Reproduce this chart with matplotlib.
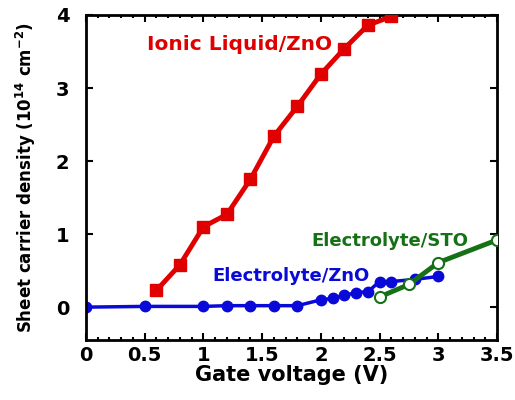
import numpy as np
import matplotlib
matplotlib.use("Agg")
from matplotlib import pyplot as plt
from matplotlib.ticker import MultipleLocator

plt.rcParams['font.family'] = ['DejaVu Sans']
plt.rcParams['font.weight'] = 'bold'
plt.rcParams['mathtext.default'] = 'bf'

# Ionic liquid / ZnO
il_v = [0.6, 0.8, 1.0, 1.2, 1.4, 1.6, 1.8, 2.0, 2.2, 2.4, 2.6]
il_n = [0.23, 0.58, 1.10, 1.27, 1.75, 2.34, 2.75, 3.19, 3.54, 3.86, 3.98]

# Electrolyte / ZnO
ez_v = [0.0, 0.5, 1.0, 1.2, 1.4, 1.6, 1.8, 2.0, 2.1, 2.2, 2.3, 2.4, 2.5, 2.6, 2.8, 3.0]
ez_n = [0.0, 0.01, 0.01, 0.02, 0.02, 0.02, 0.02, 0.10, 0.12, 0.16, 0.20, 0.21, 0.35, 0.35, 0.38, 0.42]

# Electrolyte / STO
es_v = [2.5, 2.75, 3.0, 3.5]
es_n = [0.14, 0.31, 0.61, 0.92]

xticks = [0, 0.5, 1, 1.5, 2, 2.5, 3, 3.5]
xtick_labels = ['0', '0.5', '1', '1.5', '2', '2.5', '3', '3.5']

red = '#e00000'
blue = '#0a0ad8'
green = '#167016'

fig = plt.figure(figsize=(5.15, 4.0), dpi=100)
ax = fig.add_axes([86 / 515, 60 / 400, 411 / 515, 325 / 400])

ax.plot(il_v, il_n, '-s', color=red, lw=3.5, ms=9, zorder=3)
ax.plot(ez_v, ez_n, '-o', color=blue, lw=2.5, ms=7.5, zorder=2)
ax.plot(es_v, es_n, '-o', color=green, lw=3.5, ms=8, mfc='white', mec=green, mew=1.5, zorder=4)

ax.text(1.31, 3.60, 'Ionic Liquid/ZnO', color=red, fontsize=14.5, fontweight='bold',
        ha='center', va='center')
ax.text(1.75, 0.43, 'Electrolyte/ZnO', color=blue, fontsize=13, fontweight='bold',
        ha='center', va='center')
ax.text(2.59, 0.90, 'Electrolyte/STO', color=green, fontsize=13, fontweight='bold',
        ha='center', va='center')

ax.set_xlim(0, 3.5)
ax.set_ylim(-0.45, 4)
ax.xaxis.set_minor_locator(MultipleLocator(0.1))
ax.yaxis.set_major_locator(MultipleLocator(1))
ax.set_xticks(xticks)
ax.set_xticklabels(xtick_labels)
ax.tick_params(which='both', direction='in', top=True, right=True, labelsize=14, width=1.5)
ax.tick_params(which='major', length=5)
ax.tick_params(axis='y', which='major', pad=12)
ax.tick_params(axis='x', which='major', pad=4)
ax.tick_params(which='minor', length=2.5)
for lab in ax.get_xticklabels() + ax.get_yticklabels():
    lab.set_fontweight('bold')
for s in ax.spines.values():
    s.set_linewidth(2)

ax.set_xlabel('Gate voltage (V)', fontsize=15, fontweight='bold', labelpad=0)
ax.set_ylabel('Sheet carrier density (10$^{14}$ cm$^{-2}$)', fontsize=12,
              fontweight='bold', labelpad=13)

fig.savefig('out.png', dpi=100)
